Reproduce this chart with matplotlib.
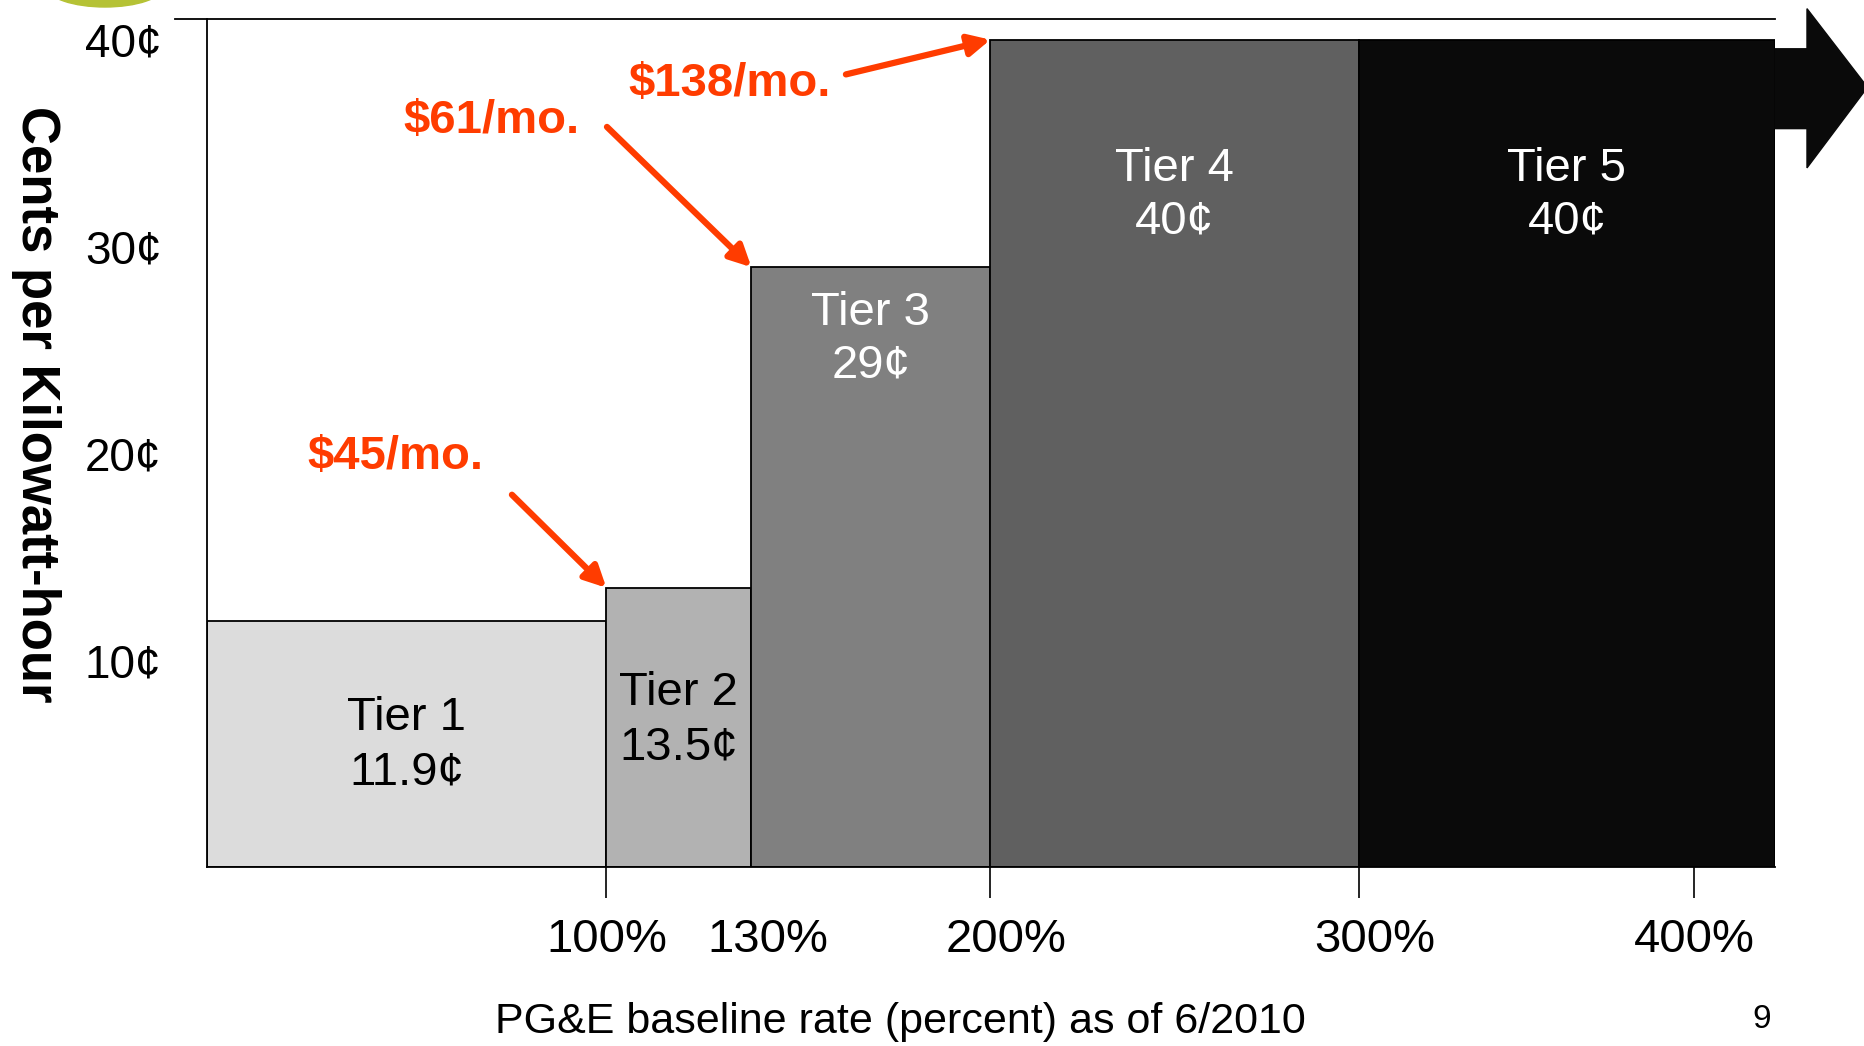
import matplotlib
matplotlib.use("Agg")
import numpy as np
import matplotlib.pyplot as plt
from matplotlib.patches import Polygon, Ellipse
import matplotlib.transforms as mtransforms

plt.rcParams['font.family'] = ['Liberation Sans', 'DejaVu Sans']

# PG&E residential tiers, mid 2010
tiers = ["Tier 1", "Tier 2", "Tier 3", "Tier 4", "Tier 5"]
tier_start = [0, 100, 130, 200, 300]          # percent of baseline
rates = [11.9, 13.5, 29, 40, 40]               # cents per kWh
rate_labels = ["11.9¢", "13.5¢", "29¢", "40¢", "40¢"]
tier_colors = ["#dcdcdc", "#b2b2b2", "#808080", "#606060", "#0a0a0a"]

# monthly bill at the start of tiers 2, 3 and 4
bill_tier = [1, 2, 3]
bill_labels = [r"\$45/mo.", r"\$61/mo.", r"\$138/mo."]

x_ticks = [100, 200, 300, 400]
x_tick_labels = ["100%", "200%", "300%", "400%"]
x_minor = [130]
x_minor_labels = ["130%"]
y_ticks = [10, 20, 30, 40]
y_tick_labels = ["10¢", "20¢", "30¢", "40¢"]

X_MAX = 430
Y_MAX = 41
RED = "#ff3c00"

# schematic (piecewise) spacing of the baseline axis
x_anchor_val = [0, 100, 130, 200, 300, 400, X_MAX]
x_anchor_pos = [0, 0.2547, 0.3472, 0.4996, 0.7346, 0.9484, 1.0]


def fwd(x):
    return np.interp(x, x_anchor_val, x_anchor_pos)


def inv(p):
    return np.interp(p, x_anchor_pos, x_anchor_val)


fig = plt.figure(figsize=(18.64, 10.46), dpi=100)
ax = fig.add_axes([207 / 1864, 179 / 1046, 1568 / 1864, 848 / 1046])
ax.set_xscale("function", functions=(fwd, inv))
ax.set_xlim(0, X_MAX)
ax.set_ylim(0, Y_MAX)

edges = tier_start + [X_MAX]
widths = [edges[i + 1] - edges[i] for i in range(len(tiers))]
ax.bar(tier_start, rates, width=widths, align="edge", color=tier_colors,
       edgecolor="black", linewidth=1.3, zorder=2)

# tier captions: light tiers in dark type, dark tiers in white
label_y = [5.9, 7.1, 25.5, 32.5, 32.5]
for i, name in enumerate(tiers):
    cx = inv((fwd(edges[i]) + fwd(edges[i + 1])) / 2)
    if i < 2:
        ax.text(cx, label_y[i], f"{name}\n{rate_labels[i]}", ha="center", va="center",
                fontsize=34, color="black", linespacing=1.3, zorder=3)
    else:
        ax.text(cx, label_y[i], f"{name}\n{rate_labels[i]}", ha="center", va="center",
                fontsize=34, color="white", linespacing=1.25, zorder=3)

# red callouts pointing at the step corners
text_off = [(-152, 94), (-187, 105), (-188, -32)]
tail_off = [(-68, 67), (-104, 101), (-104, -25)]
for k, t in enumerate(bill_tier):
    corner = (tier_start[t], rates[t])
    ax.annotate("", xy=corner, xytext=tail_off[k], textcoords="offset points",
                arrowprops=dict(arrowstyle="-|>", color=RED, lw=4.5,
                                mutation_scale=32, shrinkA=0, shrinkB=0),
                annotation_clip=False, zorder=4)
    ax.annotate(bill_labels[k], xy=corner, xytext=text_off[k], textcoords="offset points",
                ha="center", va="center", fontsize=34, fontweight="bold", color=RED,
                annotation_clip=False, zorder=4)

# block arrow running off the top tier (x in axes fraction, y in cents)
top = rates[-1]
blend = mtransforms.blended_transform_factory(ax.transAxes, ax.transData)
arrow = Polygon([(1.0, top - 0.44), (1.0204, top - 0.44), (1.0204, top + 1.5),
                 (1.059, top - 2.3), (1.0204, top - 6.2), (1.0204, top - 4.3),
                 (1.0, top - 4.3)], closed=True, color="#0a0a0a",
                transform=blend, clip_on=False, zorder=2)
ax.add_patch(arrow)

ax.set_xticks(x_ticks)
ax.set_xticklabels(x_tick_labels, fontsize=34)
ax.set_xticks(x_minor, minor=True)
ax.set_xticklabels(x_minor_labels, minor=True, fontsize=34)
ax.tick_params(axis="x", which="major", length=22, width=1.2, pad=15)
ax.tick_params(axis="x", which="minor", length=22, width=0, pad=15)

# middle labels sit a little to the right of their ticks
nudge = mtransforms.ScaledTranslation(0.16, 0, fig.dpi_scale_trans)
for lbl in ax.get_xticklabels(minor=True) + ax.get_xticklabels()[1:3]:
    lbl.set_transform(lbl.get_transform() + nudge)

ax.set_yticks(y_ticks)
ax.set_yticklabels(y_tick_labels, fontsize=33)
ax.tick_params(axis="y", length=0, pad=33)

for side in ["top", "right"]:
    ax.spines[side].set_visible(False)
for side in ["left", "bottom"]:
    ax.spines[side].set_linewidth(1.3)
ax.plot([-0.0204, 1], [1, 1], transform=ax.transAxes, color="black", lw=1.3, clip_on=False)

ax.set_ylabel("Cents per Kilowatt-hour", rotation=-90, fontsize=38, fontweight="bold",
              ha="center", va="center")
ax.yaxis.set_label_coords(-0.109, 0.546)

fig.text(900 / 1864, 1 - 1022 / 1046, "PG&E baseline rate (percent) as of 6/2010",
         ha="center", va="center", fontsize=31)
fig.text(1762 / 1864, 1 - 1019 / 1046, "9", ha="center", va="center", fontsize=24)

fig.add_artist(Ellipse((105 / 1864, 1 + 13 / 1046), 116 / 1864, 40 / 1046,
                       transform=fig.transFigure, color="#b5c235"))

fig.savefig("out.png", dpi=100)
